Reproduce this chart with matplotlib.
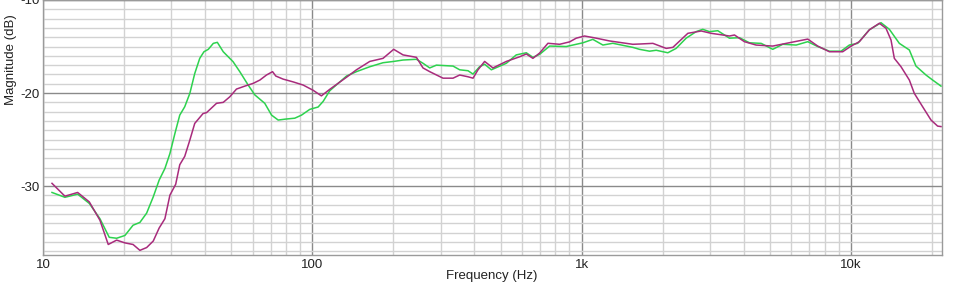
import matplotlib
matplotlib.use("Agg")
import matplotlib.pyplot as plt
from matplotlib.ticker import FixedLocator, FixedFormatter, LogLocator, MultipleLocator, NullFormatter

plt.rcParams['font.family'] = ['Liberation Sans', 'DejaVu Sans']

# Magenta trace
mag_f = [10.8, 12.06, 13.45, 14.86, 16.27, 17.47, 18.77, 20.15, 21.6, 22.9, 24.26, 25.67, 27.0,
         28.36, 29.6, 31.1, 32.2, 33.6, 35.1, 36.6, 39.3, 40.5, 44.1, 46.7, 49.4, 52.3, 56.2,
         60.3, 63.9, 67.6, 71.2, 73.2, 77.9, 84.9, 92.5, 100.7, 108.1, 116.1, 134, 145.9,
         163.5, 183.1, 200.6, 217.3, 243.6, 257.7, 273, 305.8, 333.2, 352.7, 378.7, 395.3,
         412.5, 436.5, 468.7, 525.5, 589, 623.5, 659.6, 698.6, 750, 828.6, 902.5, 955.6,
         1026, 1133, 1270, 1550, 1641, 1840, 2062, 2183, 2481, 2782, 3029, 3345, 3541, 3697,
         4025, 4447, 5128, 5750, 6917, 7532, 8324, 9327, 10020, 10755, 11716, 12760, 13504,
         14097, 14502, 15356, 16488, 17203, 18474, 19845, 21000, 21610]
mag_db = [-29.7, -31.08, -30.68, -31.7, -33.66, -36.27, -35.8, -36.1, -36.27, -36.9, -36.6, -35.9,
          -34.5, -33.5, -30.97, -29.8, -27.7, -26.8, -25.05, -23.26, -22.2, -22.1, -21.1, -21.0,
          -20.4, -19.57, -19.25, -18.96, -18.6, -18.06, -17.7, -18.17, -18.5, -18.8, -19.14,
          -19.7, -20.3, -19.6, -18.3, -17.5, -16.6, -16.27, -15.3, -15.9, -16.16, -17.3, -17.7,
          -18.4, -18.4, -18.06, -18.25, -18.4, -17.5, -16.6, -17.3, -16.6, -16.1, -15.8, -16.27,
          -15.7, -14.65, -14.76, -14.5, -14.1, -13.87, -14.1, -14.4, -14.76, -14.73, -14.66,
          -15.2, -15.09, -13.58, -13.33, -13.58, -13.76, -13.87, -13.76, -14.48, -14.84, -14.95,
          -14.66, -14.2, -14.95, -15.56, -15.56, -14.95, -14.48, -13.2, -12.5, -13.04, -14.3,
          -16.27, -17.17, -18.6, -20.03, -21.47, -22.9, -23.55, -23.6]

# Green trace
grn_f = [10.8, 12.06, 13.45, 14.86, 16.27, 17.62, 18.77, 20.15, 21.6, 22.9, 24.26, 25.67, 27.0,
         28.36, 29.6, 30.9, 32.2, 33.6, 35.1, 36.6, 38.2, 39.6, 41.1, 42.9, 44.4, 46.7, 50.8,
         53.8, 57.8, 61.2, 66.6, 70.6, 74.7, 79.4, 86.1, 91.2, 97.9, 105.1, 109.7, 116.1,
         134, 145.9, 163.5, 183.1, 200.6, 217.3, 243.6, 257.7, 273, 289, 333.2, 352.7, 378.7,
         395.3, 418, 436.5, 462.3, 525.5, 572, 623.5, 659.6, 698.6, 761, 877, 1011, 1101,
         1200, 1306, 1550, 1641, 1788, 1893, 2091, 2245, 2446, 2664, 2818, 2985, 3205, 3541,
         3858, 4203, 4644, 5128, 5585, 6264, 6917, 7532, 8324, 9195, 9872, 10600, 11716,
         12940, 13900, 15136, 16488, 17450, 19010, 20120, 21610]
grn_db = [-30.68, -31.2, -30.86, -31.86, -33.5, -35.5, -35.6, -35.3, -34.2, -33.9, -32.9, -31.15,
          -29.35, -28.1, -26.5, -24.33, -22.37, -21.47, -20.03, -17.9, -16.27, -15.56, -15.3,
          -14.66, -14.55, -15.56, -16.63, -17.7, -19.14, -20.2, -21.1, -22.37, -22.9, -22.8,
          -22.7, -22.37, -21.75, -21.5, -20.9, -19.75, -18.17, -17.7, -17.17, -16.74, -16.6,
          -16.45, -16.37, -16.8, -17.3, -17.0, -17.1, -17.5, -17.6, -17.96, -17.17, -16.9,
          -17.5, -16.8, -15.9, -15.67, -16.16, -15.84, -14.95, -15.0, -14.6, -14.23, -14.84,
          -14.65, -15.09, -15.3, -15.5, -15.4, -15.67, -15.2, -14.1, -13.4, -13.15, -13.4,
          -13.3, -14.1, -14.05, -14.6, -14.66, -15.3, -14.76, -14.84, -14.48, -15.0, -15.5,
          -15.5, -14.84, -14.66, -13.2, -12.44, -13.15, -14.66, -15.37, -17.1, -18.06, -18.6,
          -19.25]

x_ticks = [10, 100, 1000, 10000]
x_tick_labels = ["10", "100", "1k", "10k"]
y_ticks = [-30, -20, -10]
y_tick_labels = ["-30", "-20", "-10"]

W, H = 965, 288
fig = plt.figure(figsize=(W / 100, H / 100), dpi=100)
ax = fig.add_axes([43 / W, 1 - 255 / H, (942 - 43) / W, 255 / H])

ax.plot(grn_f, grn_db, color="#2dd24e", lw=1.1, zorder=3)
ax.plot(mag_f, mag_db, color="#a82b7c", lw=1.1, zorder=4)

ax.set_xscale("log")
ax.set_xlim(10, 21800)
ax.set_ylim(-37.4, -10)

ax.xaxis.set_major_locator(FixedLocator(x_ticks))
ax.xaxis.set_major_formatter(FixedFormatter(x_tick_labels))
ax.xaxis.set_minor_locator(LogLocator(base=10, subs=range(2, 10), numticks=20))
ax.xaxis.set_minor_formatter(NullFormatter())
ax.yaxis.set_major_locator(FixedLocator(y_ticks))
ax.yaxis.set_major_formatter(FixedFormatter(y_tick_labels))
ax.yaxis.set_minor_locator(MultipleLocator(1))

ax.grid(which="major", color="#8a8a8a", lw=1.0, zorder=1)
ax.grid(which="minor", color="#d2d2d2", lw=1.0, zorder=0)
ax.set_axisbelow(True)

ax.tick_params(which="both", length=0, labelsize=9.5, colors="#222222")
ax.tick_params(axis="x", pad=3)
ax.tick_params(axis="y", pad=2.5)
for s in ax.spines.values():
    s.set_color("#9a9a9a")
    s.set_linewidth(1.0)

fig.text(492 / W, 1 - 276 / H, "Frequency (Hz)", fontsize=9.5, color="#222222",
         ha="center", va="center")
fig.text(11 / W, 1 - 60 / H, "Magnitude (dB)", fontsize=9.5, color="#222222",
         ha="center", va="center", rotation=90)

fig.savefig("out.png", dpi=100)
